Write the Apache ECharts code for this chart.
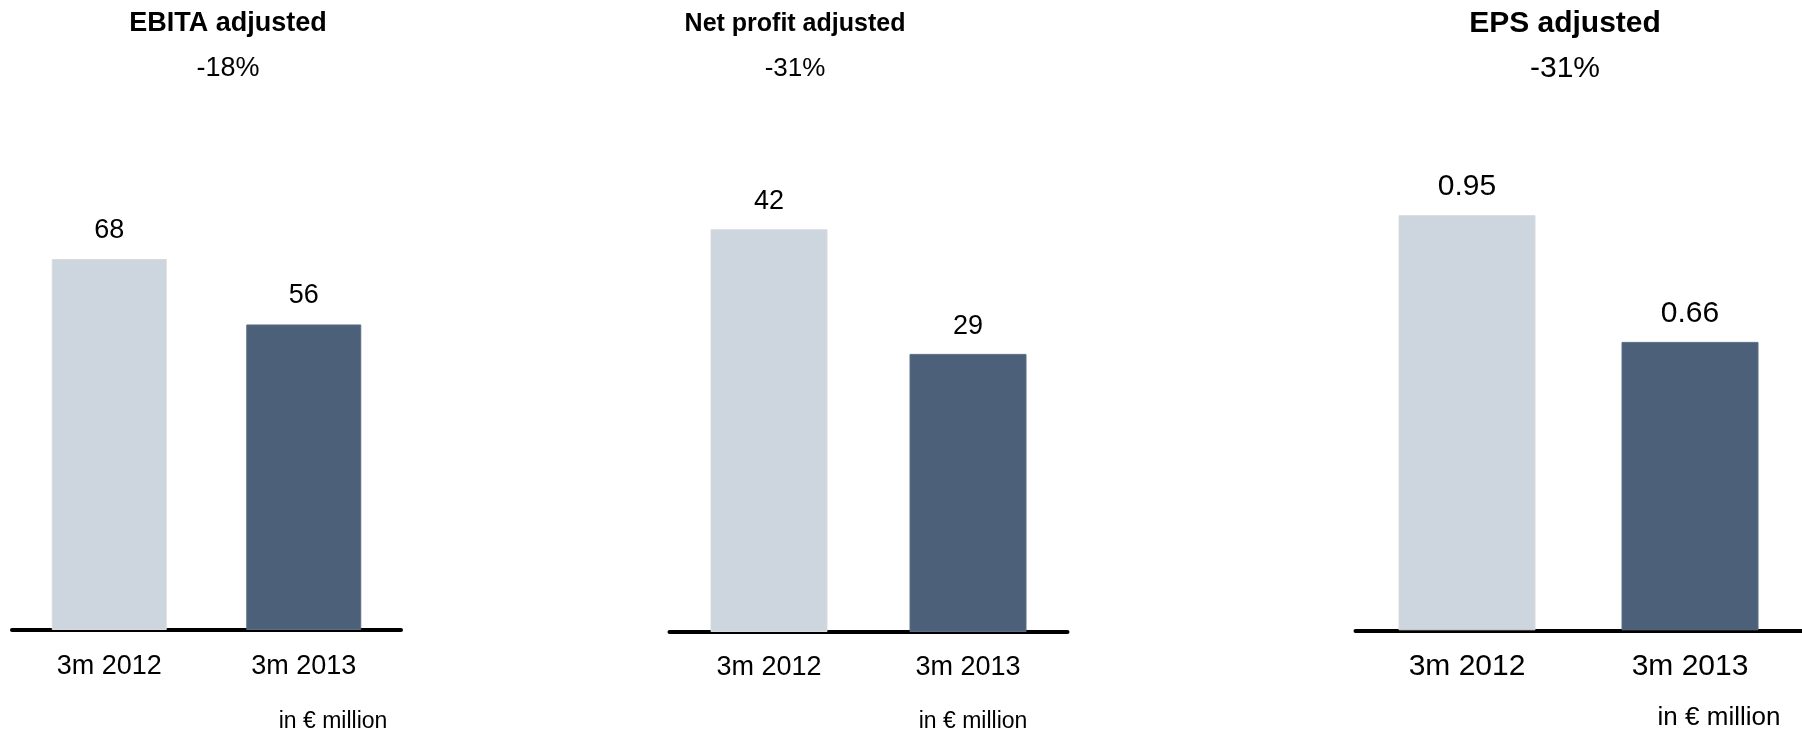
<!DOCTYPE html>
<html>
<head>
<meta charset="utf-8">
<script src="https://cdn.jsdelivr.net/npm/echarts@6/dist/echarts.min.js"></script>
<style>
html,body{margin:0;padding:0;background:#fff;}
#main{width:1802px;height:736px;}
</style>
</head>
<body>
<div id="main"></div>
<script>
var categories = ['3m 2012', '3m 2013'];
var ebitaValues = [68, 56];
var netProfitValues = [42, 29];
var epsValues = [0.95, 0.66];
var panelTitles = ['EBITA adjusted', 'Net profit adjusted', 'EPS adjusted'];
var panelChanges = ['-18%', '-31%', '-31%'];
var unitNote = 'in \u20ac million';

var FONT = '"Liberation Sans", Arial, Helvetica, sans-serif';
var LIGHT = '#CDD5DE';
var DARK = '#4C6179';

var panels = [
  { values: ebitaValues, left: 12, width: 389, axisY: 630, max: 80, pxPerUnit: 5.456, barWidth: 115,
    titleX: 228, titleFs: 27, changeFs: 27, valueFs: 27, catFs: 27, catMargin: 23, labelDist: 15,
    noteX: 333, noteY: 722, noteFs: 23 },
  { values: netProfitValues, left: 669.5, width: 398, axisY: 632, max: 50, pxPerUnit: 9.59, barWidth: 117,
    titleX: 795, titleFs: 25, changeFs: 26, valueFs: 27, catFs: 27, catMargin: 22, labelDist: 14,
    noteX: 973, noteY: 722, noteFs: 23 },
  { values: epsValues, left: 1355.5, width: 446, axisY: 630.3, max: 1, pxPerUnit: 437, barWidth: 137,
    titleX: 1565, titleFs: 30, changeFs: 30, valueFs: 30, catFs: 30, catMargin: 21, labelDist: 13,
    noteX: 1719, noteY: 718, noteFs: 26 }
];

var grids = [], xAxes = [], yAxes = [], series = [], graphics = [];
panels.forEach(function (p, i) {
  var h = p.max * p.pxPerUnit;
  grids.push({ left: p.left, width: p.width, top: p.axisY - h, height: h, containLabel: false });
  xAxes.push({
    type: 'category', gridIndex: i, data: categories,
    axisLine: { show: true, lineStyle: { color: '#000', width: 4 } },
    axisTick: { show: false },
    axisLabel: { color: '#000', fontFamily: FONT, fontSize: p.catFs, margin: p.catMargin }
  });
  yAxes.push({
    type: 'value', gridIndex: i, min: 0, max: p.max,
    show: false, splitLine: { show: false }
  });
  series.push({
    type: 'bar', xAxisIndex: i, yAxisIndex: i, barWidth: p.barWidth,
    data: p.values.map(function (v, k) {
      return { value: v, itemStyle: { color: k === 0 ? LIGHT : DARK, borderColor: k === 0 ? '#DADADA' : '#5A6E84', borderWidth: 1 } };
    }),
    label: { show: true, position: 'top', distance: p.labelDist, color: '#000', fontFamily: FONT, fontSize: p.valueFs },
    animation: false, z: 1
  });
  graphics.push({
    type: 'text', x: p.titleX, y: 24,
    style: { text: panelTitles[i], fill: '#000', font: 'bold ' + p.titleFs + 'px ' + FONT, textAlign: 'center', textVerticalAlign: 'middle' }
  });
  graphics.push({
    type: 'text', x: p.titleX, y: 69,
    style: { text: panelChanges[i], fill: '#000', font: p.changeFs + 'px ' + FONT, textAlign: 'center', textVerticalAlign: 'middle' }
  });
  graphics.push({
    type: 'text', x: p.noteX, y: p.noteY,
    style: { text: unitNote, fill: '#000', font: p.noteFs + 'px ' + FONT, textAlign: 'center', textVerticalAlign: 'middle' }
  });
});

var chart = echarts.init(document.getElementById('main'), null, { renderer: 'canvas' });
chart.setOption({
  backgroundColor: '#fff',
  animation: false,
  grid: grids,
  xAxis: xAxes,
  yAxis: yAxes,
  series: series,
  graphic: graphics
});
</script>
</body>
</html>
